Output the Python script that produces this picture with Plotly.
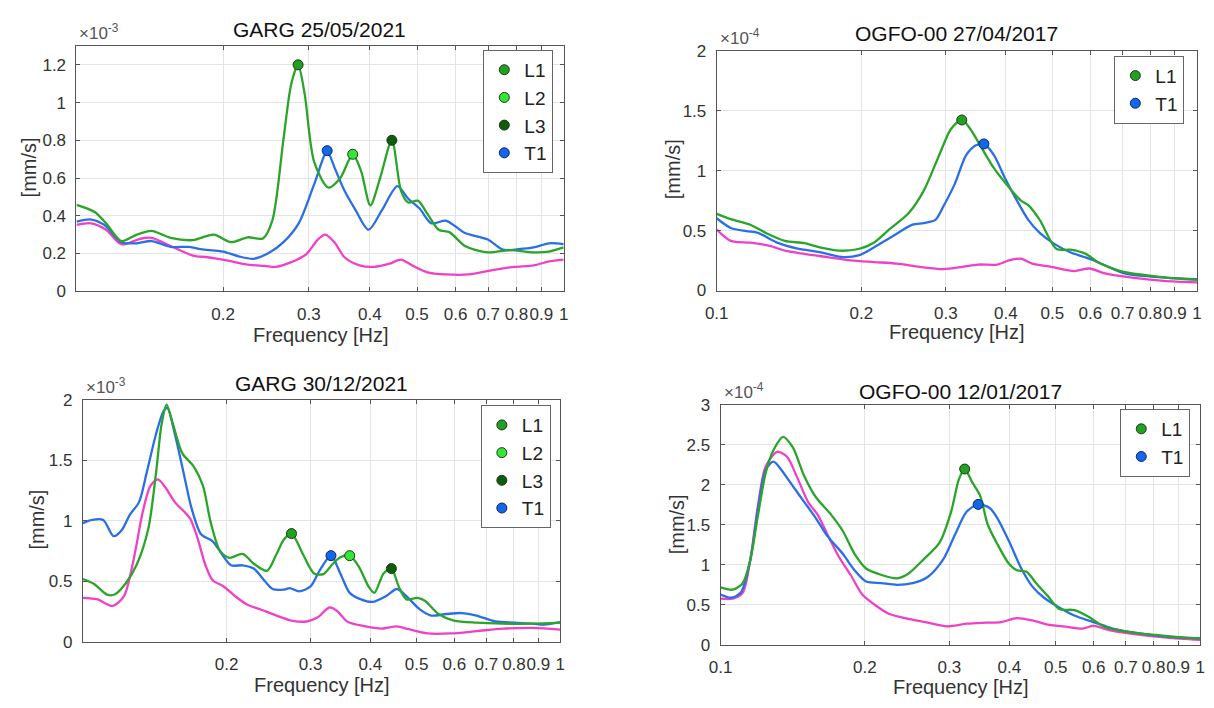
import plotly.graph_objects as go

# ---------------- data ----------------
# Panel 1: GARG 25/05/2021 (values x1e-3 mm/s)
p1_green_f = [0.1, 0.109, 0.115, 0.1236, 0.133, 0.1426, 0.156, 0.1735, 0.1913, 0.2075, 0.2248, 0.2414, 0.2525,
              0.266, 0.276, 0.285, 0.294, 0.3075, 0.329, 0.348, 0.369, 0.384, 0.401, 0.42, 0.444, 0.4636, 0.4797,
              0.502, 0.5253, 0.5536, 0.5835, 0.627, 0.6987, 0.778, 0.8675, 0.9327, 1.0]
p1_green_v = [0.458, 0.42, 0.36, 0.266, 0.30, 0.32, 0.283, 0.271, 0.30, 0.26, 0.286, 0.28, 0.377,
              0.806, 1.1, 1.2, 1.046, 0.686, 0.549, 0.60, 0.726, 0.635, 0.455, 0.60, 0.80, 0.532, 0.47,
              0.48, 0.41, 0.326, 0.312, 0.24, 0.206, 0.218, 0.206, 0.21, 0.232]
p1_blue_f = [0.1, 0.1072, 0.114, 0.1236, 0.133, 0.1426, 0.156, 0.1705, 0.18, 0.2, 0.2152, 0.2309, 0.248, 0.266,
             0.2858, 0.3075, 0.327, 0.339, 0.355, 0.374, 0.3976, 0.4237, 0.4557, 0.4797, 0.5066, 0.535, 0.573,
             0.6, 0.627, 0.6987, 0.7505, 0.808, 0.8675, 0.9327, 1.0]
p1_blue_v = [0.369, 0.38, 0.352, 0.26, 0.254, 0.266, 0.235, 0.235, 0.223, 0.21, 0.185, 0.172, 0.202, 0.26,
             0.36, 0.566, 0.74, 0.652, 0.532, 0.43, 0.326, 0.43, 0.557, 0.49, 0.437, 0.36, 0.374,
             0.343, 0.309, 0.274, 0.22, 0.223, 0.232, 0.254, 0.249]
p1_mag_f = [0.1, 0.1072, 0.115, 0.1236, 0.1352, 0.1426, 0.156, 0.1735, 0.186, 0.2036, 0.2229, 0.2436, 0.257,
            0.276, 0.2966, 0.3128, 0.3243, 0.339, 0.355, 0.381, 0.4087, 0.4393, 0.4636, 0.4885, 0.5253, 0.573,
            0.6383, 0.711, 0.7924, 0.8675, 0.9327, 1.0]
p1_mag_v = [0.352, 0.36, 0.326, 0.249, 0.278, 0.283, 0.24, 0.189, 0.18, 0.163, 0.142, 0.134, 0.129,
            0.154, 0.197, 0.274, 0.30, 0.257, 0.18, 0.137, 0.129, 0.146, 0.168, 0.137, 0.10, 0.089,
            0.089, 0.111, 0.129, 0.137, 0.158, 0.168]
p1_peak_names = ["L1", "L2", "L3", "T1"]
p1_peak_f = [0.285, 0.369, 0.444, 0.327]
p1_peak_v = [1.20, 0.726, 0.80, 0.745]

# Panel 2: OGFO-00 27/04/2017 (values x1e-4 mm/s)
p2_green_f = [0.1, 0.107, 0.1175, 0.1265, 0.1387, 0.1523, 0.1639, 0.18, 0.1973, 0.2124, 0.2287, 0.2508, 0.2699,
              0.2907, 0.3075, 0.3238, 0.3373, 0.3567, 0.3775, 0.406, 0.4295, 0.4454, 0.4705, 0.5103, 0.5446,
              0.5872, 0.6208, 0.6933, 0.7744, 0.8806, 1.0]
p2_green_v = [0.64, 0.596, 0.55, 0.482, 0.415, 0.396, 0.36, 0.333, 0.347, 0.40, 0.51, 0.645, 0.835,
              1.133, 1.35, 1.425, 1.35, 1.187, 1.024, 0.862, 0.753, 0.713, 0.59, 0.347, 0.341,
              0.306, 0.238, 0.163, 0.13, 0.103, 0.089]
p2_blue_f = [0.1, 0.107, 0.1153, 0.1219, 0.1337, 0.1467, 0.1639, 0.1832, 0.1973, 0.2124, 0.2329, 0.2556, 0.2699,
             0.2853, 0.2962, 0.313, 0.3309, 0.3466, 0.36, 0.3775, 0.398, 0.4216, 0.4454, 0.4705, 0.5056,
             0.5446, 0.5968, 0.6433, 0.7061, 0.8029, 1.0]
p2_blue_v = [0.604, 0.523, 0.496, 0.482, 0.40, 0.352, 0.32, 0.279, 0.293, 0.36, 0.455, 0.55, 0.564,
             0.59, 0.70, 0.889, 1.133, 1.214, 1.225, 1.133, 0.943, 0.753, 0.59, 0.482, 0.388,
             0.32, 0.266, 0.211, 0.144, 0.117, 0.095]
p2_mag_f = [0.1, 0.107, 0.1175, 0.1289, 0.1387, 0.1523, 0.1701, 0.1901, 0.2124, 0.2371, 0.2648, 0.2962, 0.3252,
            0.35, 0.3841, 0.406, 0.4295, 0.4538, 0.4976, 0.5551, 0.5968, 0.6433, 0.732, 0.8509, 1.0]
p2_mag_v = [0.51, 0.415, 0.40, 0.374, 0.333, 0.306, 0.279, 0.252, 0.238, 0.225, 0.198, 0.179, 0.198,
            0.217, 0.217, 0.252, 0.266, 0.225, 0.198, 0.163, 0.184, 0.144, 0.108, 0.081, 0.068]
p2_peak_names = ["L1", "T1"]
p2_peak_f = [0.3238, 0.36]
p2_peak_v = [1.425, 1.225]

# Panel 3: GARG 30/12/2021 (values x1e-3 mm/s)
p3_green_f = [0.1, 0.1054, 0.1123, 0.1165, 0.123, 0.1299, 0.1372, 0.1423, 0.1462, 0.1497, 0.1544, 0.1616, 0.1706,
              0.1785, 0.1851, 0.1937, 0.2027, 0.2161, 0.228, 0.243, 0.2545, 0.2639, 0.2736, 0.2889, 0.305,
              0.319, 0.3338, 0.3462, 0.3622, 0.379, 0.3966, 0.408, 0.4265, 0.4429, 0.4588, 0.476, 0.5026,
              0.5214, 0.5559, 0.5986, 0.6677, 0.7582, 0.8757, 1.0]
p3_green_v = [0.518, 0.478, 0.389, 0.389, 0.483, 0.644, 0.94, 1.396, 1.80, 1.96, 1.80, 1.557, 1.45,
              1.289, 0.993, 0.752, 0.693, 0.725, 0.644, 0.585, 0.725, 0.846, 0.894, 0.725, 0.564,
              0.558, 0.644, 0.698, 0.711, 0.617, 0.456, 0.403, 0.564, 0.604, 0.456, 0.349, 0.362,
              0.336, 0.228, 0.174, 0.156, 0.148, 0.148, 0.156]
p3_blue_f = [0.1, 0.1045, 0.1103, 0.116, 0.1208, 0.1253, 0.1311, 0.136, 0.1423, 0.1475, 0.1503, 0.1558, 0.1631,
             0.169, 0.177, 0.1868, 0.1954, 0.2045, 0.2161, 0.228, 0.2409, 0.2497, 0.2639, 0.2712, 0.2838,
             0.2998, 0.3135, 0.3309, 0.3462, 0.3622, 0.3825, 0.4041, 0.4314, 0.4548, 0.476, 0.5073, 0.5365,
             0.5768, 0.6212, 0.6677, 0.7318, 0.8006, 0.8757, 0.9245, 1.0]
p3_blue_v = [0.98, 1.007, 1.007, 0.872, 0.926, 1.047, 1.154, 1.396, 1.718, 1.906, 1.933, 1.718, 1.369,
             1.10, 0.886, 0.832, 0.725, 0.631, 0.631, 0.604, 0.497, 0.435, 0.43, 0.443, 0.416,
             0.456, 0.59, 0.711, 0.564, 0.403, 0.349, 0.328, 0.376, 0.435, 0.376, 0.268, 0.215,
             0.228, 0.236, 0.215, 0.166, 0.156, 0.148, 0.14, 0.161]
p3_mag_f = [0.1, 0.1073, 0.1154, 0.1219, 0.1276, 0.1335, 0.1385, 0.1436, 0.1489, 0.1558, 0.1631, 0.1677, 0.1738,
            0.1802, 0.1868, 0.1972, 0.2084, 0.2202, 0.2366, 0.2545, 0.2736, 0.2942, 0.3107, 0.3283, 0.3403,
            0.3594, 0.3864, 0.4231, 0.4548, 0.4808, 0.5272, 0.5878, 0.6677, 0.7582, 0.8757, 1.0]
p3_mag_v = [0.362, 0.349, 0.295, 0.376, 0.671, 1.074, 1.289, 1.342, 1.275, 1.154, 1.074, 1.02, 0.859,
            0.644, 0.51, 0.456, 0.376, 0.309, 0.263, 0.215, 0.174, 0.166, 0.201, 0.282, 0.255,
            0.161, 0.129, 0.107, 0.126, 0.102, 0.067, 0.067, 0.086, 0.107, 0.113, 0.099]
p3_peak_names = ["L1", "L2", "L3", "T1"]
p3_peak_f = [0.2736, 0.3622, 0.4429, 0.3309]
p3_peak_v = [0.894, 0.711, 0.604, 0.711]

# Panel 4: OGFO-00 12/01/2017 (values x1e-4 mm/s)
p4_green_f = [0.1, 0.106, 0.1112, 0.1153, 0.1197, 0.1242, 0.1289, 0.135, 0.1414, 0.1495, 0.1581, 0.1703, 0.18,
              0.1903, 0.2011, 0.2167, 0.2334, 0.2467, 0.2657, 0.2862, 0.3025, 0.314, 0.3229, 0.3351, 0.3477,
              0.3608, 0.3779, 0.3993, 0.4146, 0.4344, 0.4552, 0.4816, 0.5085, 0.5467, 0.5878, 0.6321, 0.7081,
              0.8083, 0.9223, 1.0]
p4_green_v = [0.717, 0.689, 0.77, 1.054, 1.621, 2.148, 2.432, 2.60, 2.47, 2.108, 1.844, 1.621, 1.419,
              1.135, 0.953, 0.872, 0.831, 0.892, 1.074, 1.277, 1.662, 2.067, 2.197, 2.027, 1.865,
              1.50, 1.257, 1.013, 0.932, 0.912, 0.77, 0.608, 0.446, 0.434, 0.345, 0.223, 0.162,
              0.122, 0.089, 0.081]
p4_blue_f = [0.1, 0.1051, 0.1101, 0.1153, 0.1197, 0.1242, 0.1289, 0.1338, 0.1414, 0.1495, 0.1581, 0.1671, 0.18,
             0.1903, 0.2011, 0.2167, 0.2334, 0.2514, 0.2708, 0.2917, 0.3083, 0.3259, 0.3445, 0.3641, 0.3779,
             0.3993, 0.4222, 0.4467, 0.4726, 0.5085, 0.5467, 0.5992, 0.6574, 0.7484, 0.8528, 1.0]
p4_blue_v = [0.628, 0.588, 0.649, 1.054, 1.702, 2.189, 2.29, 2.189, 1.986, 1.784, 1.581, 1.358, 1.135,
             0.932, 0.79, 0.77, 0.75, 0.77, 0.851, 1.074, 1.378, 1.662, 1.755, 1.71, 1.581,
             1.297, 0.973, 0.73, 0.588, 0.466, 0.365, 0.284, 0.203, 0.142, 0.101, 0.081]
p4_mag_f = [0.1, 0.106, 0.1112, 0.1153, 0.1197, 0.1242, 0.1313, 0.1376, 0.1441, 0.1523, 0.1596, 0.1671, 0.1767,
            0.1868, 0.1975, 0.2089, 0.2249, 0.2467, 0.2708, 0.2969, 0.3259, 0.3573, 0.3848, 0.4146, 0.4467,
            0.4816, 0.5283, 0.5689, 0.5992, 0.6461, 0.7359, 0.8528, 1.0]
p4_mag_v = [0.576, 0.576, 0.649, 1.054, 1.743, 2.229, 2.412, 2.351, 2.108, 1.784, 1.621, 1.378, 1.094,
            0.872, 0.628, 0.507, 0.385, 0.324, 0.276, 0.231, 0.263, 0.276, 0.284, 0.332, 0.304,
            0.251, 0.223, 0.203, 0.235, 0.182, 0.13, 0.089, 0.061]
p4_peak_names = ["L1", "T1"]
p4_peak_f = [0.3229, 0.3445]
p4_peak_v = [2.197, 1.755]

x_tickvals = [0.1, 0.2, 0.3, 0.4, 0.5, 0.6, 0.7, 0.8, 0.9, 1.0]
x_ticktext = ["0.1", "0.2", "0.3", "0.4", "0.5", "0.6", "0.7", "0.8", "0.9", "1"]

# ---------------- style ----------------
W, H = 1214, 708
C_GREEN = "#2aa52a"
C_BLUE = "#2a6fe6"
C_MAG = "#f040c8"
PEAK_COLORS = {"L1": "#22a022", "L2": "#33e833", "L3": "#0d5c0d", "T1": "#1466ee"}
AX_COL = "#555555"
GRID_COL = "#e4e4e4"
TXT_COL = "#333333"
FONT = "Arial, Liberation Sans, sans-serif"

panels = [
    dict(title="GARG 25/05/2021", exp="-3",
         box=(65.4, 559.5, 38.0, 290.0), yr=[0, 1.3],
         ytv=[0, 0.2, 0.4, 0.6, 0.8, 1.0, 1.2], ytt=["0", "0.2", "0.4", "0.6", "0.8", "1", "1.2"],
         show01=False,
         g=(p1_green_f, p1_green_v), b=(p1_blue_f, p1_blue_v), m=(p1_mag_f, p1_mag_v),
         pk=(p1_peak_names, p1_peak_f, p1_peak_v),
         leg=(549, 42), ylab=(17, 163), xlab=(313, 335), ttl=(312, 21)),
    dict(title="OGFO-00 27/04/2017", exp="-4",
         box=(714.7, 1201.8, 43.3, 289.3), yr=[0, 2],
         ytv=[0, 0.5, 1, 1.5, 2], ytt=["0", "0.5", "1", "1.5", "2"],
         show01=True,
         g=(p2_green_f, p2_green_v), b=(p2_blue_f, p2_blue_v), m=(p2_mag_f, p2_mag_v),
         pk=(p2_peak_names, p2_peak_f, p2_peak_v),
         leg=(1189, 48), ylab=(670, 165), xlab=(958, 332), ttl=(958, 25)),
    dict(title="GARG 30/12/2021", exp="-3",
         box=(71.9, 556.0, 401.7, 650.0), yr=[0, 2],
         ytv=[0, 0.5, 1, 1.5, 2], ytt=["0", "0.5", "1", "1.5", "2"],
         show01=False,
         g=(p3_green_f, p3_green_v), b=(p3_blue_f, p3_blue_v), m=(p3_mag_f, p3_mag_v),
         pk=(p3_peak_names, p3_peak_f, p3_peak_v),
         leg=(546.5, 407), ylab=(25, 525), xlab=(314, 695), ttl=(314, 385)),
    dict(title="OGFO-00 12/01/2017", exp="-4",
         box=(718.6, 1205.0, 406.7, 653.3), yr=[0, 3],
         ytv=[0, 0.5, 1, 1.5, 2, 2.5, 3], ytt=["0", "0.5", "1", "1.5", "2", "2.5", "3"],
         show01=True,
         g=(p4_green_f, p4_green_v), b=(p4_blue_f, p4_blue_v), m=(p4_mag_f, p4_mag_v),
         pk=(p4_peak_names, p4_peak_f, p4_peak_v),
         leg=(1195, 411), ylab=(674, 530), xlab=(962, 697), ttl=(962, 393)),
]

fig = go.Figure()
annotations = []
layout = {}


def px_x(x):
    return x / W


def px_y(y):
    return 1 - y / H


for i, p in enumerate(panels):
    n = i + 1
    xa = "x" if n == 1 else f"x{n}"
    ya = "y" if n == 1 else f"y{n}"
    xkey = "xaxis" if n == 1 else f"xaxis{n}"
    ykey = "yaxis" if n == 1 else f"yaxis{n}"
    lkey = "legend" if n == 1 else f"legend{n}"
    x0, x1, y0, y1 = p["box"]

    for (fx, vy), col in ((p["m"], C_MAG), (p["b"], C_BLUE), (p["g"], C_GREEN)):
        fig.add_trace(go.Scatter(x=fx, y=vy, mode="lines", xaxis=xa, yaxis=ya,
                                 line=dict(color=col, width=2.3, shape="spline", smoothing=0.8),
                                 showlegend=False, hoverinfo="skip"))
    names, pf, pv = p["pk"]
    for nm, f, v in zip(names, pf, pv):
        fig.add_trace(go.Scatter(x=[f], y=[v], mode="markers", name=nm, xaxis=xa, yaxis=ya,
                                 legend=lkey,
                                 marker=dict(color=PEAK_COLORS[nm], size=10,
                                             line=dict(color="#1a3a1a" if nm != "T1" else "#0a2a5a", width=1))))

    tv = x_tickvals if p["show01"] else x_tickvals[1:]
    tt = x_ticktext if p["show01"] else x_ticktext[1:]
    layout[xkey] = dict(type="log", range=[-1, 0], domain=[px_x(x0), px_x(x1)], anchor=ya,
                        tickvals=tv, ticktext=tt, ticks="inside", ticklen=4, tickcolor=AX_COL,
                        showline=True, linecolor=AX_COL, linewidth=1, mirror="ticks",
                        showgrid=True, gridcolor=GRID_COL, gridwidth=1, zeroline=False,
                        tickangle=0,
                        tickfont=dict(size=17, color=TXT_COL, family=FONT), ticklabelstandoff=7,
                        fixedrange=True)
    layout[ykey] = dict(range=p["yr"], domain=[px_y(y1), px_y(y0)], anchor=xa,
                        tickvals=p["ytv"], ticktext=p["ytt"], ticks="inside", ticklen=4, tickcolor=AX_COL,
                        showline=True, linecolor=AX_COL, linewidth=1, mirror="ticks",
                        showgrid=True, gridcolor=GRID_COL, gridwidth=1, zeroline=False,
                        tickfont=dict(size=17, color=TXT_COL, family=FONT), ticklabelstandoff=6,
                        fixedrange=True)
    lx, ly = p["leg"]
    layout[lkey] = dict(x=px_x(lx), y=px_y(ly), xanchor="right", yanchor="top",
                        bgcolor="white", bordercolor="#666666", borderwidth=1,
                        font=dict(size=19, color="#222222", family=FONT),
                        itemwidth=30, tracegroupgap=0)
    # title
    tx, ty = p["ttl"]
    annotations.append(dict(text=p["title"], x=px_x(tx), y=px_y(ty), xref="paper", yref="paper",
                            xanchor="center", yanchor="middle", showarrow=False,
                            font=dict(size=21, color="#111111", family=FONT)))
    # exponent
    annotations.append(dict(text="\u00d710<sup>" + p["exp"] + "</sup>", x=px_x(x0 + 1), y=px_y(y0 - 1),
                            xref="paper", yref="paper", xanchor="left", yanchor="bottom",
                            showarrow=False, font=dict(size=17, color="#555555", family=FONT)))
    # axis labels
    ax_, ay_ = p["xlab"]
    annotations.append(dict(text="Frequency [Hz]", x=px_x(ax_), y=px_y(ay_), xref="paper", yref="paper",
                            xanchor="center", yanchor="middle", showarrow=False,
                            font=dict(size=20, color=TXT_COL, family=FONT)))
    bx_, by_ = p["ylab"]
    annotations.append(dict(text="[mm/s]", x=px_x(bx_), y=px_y(by_), xref="paper", yref="paper",
                            xanchor="center", yanchor="middle", showarrow=False, textangle=-90,
                            font=dict(size=20, color=TXT_COL, family=FONT)))

fig.update_layout(width=W, height=H, margin=dict(l=0, r=0, t=0, b=0),
                  paper_bgcolor="white", plot_bgcolor="white",
                  annotations=annotations, **layout)

fig.write_html("out.html", config={"displayModeBar": False})
